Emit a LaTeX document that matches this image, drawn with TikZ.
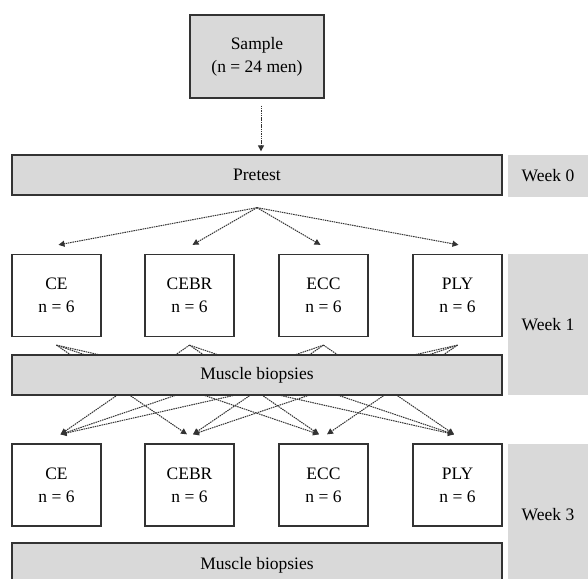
\documentclass[tikz,border=0pt]{standalone}
\usepackage{fontspec}
\setmainfont{Liberation Serif}
\usepackage{xcolor}
\usetikzlibrary{arrows.meta}
\definecolor{boxgray}{HTML}{D9D9D9}
\definecolor{linegray}{HTML}{333333}

\begin{document}
\begin{tikzpicture}[
    x=1pt, y=-1pt,
    font=\fontsize{17.5}{23}\selectfont,
    box/.style={rectangle, draw=linegray, line width=1.3pt, minimum width=89pt, minimum height=82pt, align=center, inner sep=0pt},
    bar/.style={box, fill=boxgray, minimum width=490pt, minimum height=40pt},
    week/.style={rectangle, fill=boxgray, minimum width=80pt, align=center, inner sep=0pt},
    arrow/.style={-{Triangle[length=6pt,width=6pt]}, line width=1pt, draw=linegray, dash pattern=on 1.5pt off 0.8pt}
]
    \useasboundingbox (0,0) rectangle (588,578);

    \node[box, fill=boxgray, minimum width=134pt, minimum height=83pt] (sample) at (257,56.5) {Sample\\(n = 24 men)};
    \node[bar] (pretest) at (257,175) {Pretest};
    \node[week, minimum height=42pt] (week0) at (548,176) {Week 0};

    \node[box] (ce1) at (56.5,295.5) {CE\\n = 6};
    \node[box] (cebr1) at (189.5,295.5) {CEBR\\n = 6};
    \node[box] (ecc1) at (323.5,295.5) {ECC\\n = 6};
    \node[box] (ply1) at (457.5,295.5) {PLY\\n = 6};
    \node[week, minimum height=141pt] (week1) at (548,324.5) {Week 1};

    \node[box] (ce3) at (56.5,485) {CE\\n = 6};
    \node[box] (cebr3) at (189.5,485) {CEBR\\n = 6};
    \node[box] (ecc3) at (323.5,485) {ECC\\n = 6};
    \node[box] (ply3) at (457.5,485) {PLY\\n = 6};
    \node[week, minimum height=142pt] (week3) at (548,515) {Week 3};

    \draw[arrow] ([xshift=4pt,yshift=-7pt]sample.south) -- ([xshift=4pt,yshift=3pt]pretest.north);

    % pretest to the four groups
    \coordinate (fan) at ([yshift=-12pt]pretest.south);
    \draw[arrow] (fan) -- ([xshift=2pt,yshift=9pt]ce1.north);
    \draw[arrow] (fan) -- ([xshift=3pt,yshift=9pt]cebr1.north);
    \draw[arrow] (fan) -- ([xshift=-3pt,yshift=9pt]ecc1.north);
    \draw[arrow] (fan) -- ([xshift=1pt,yshift=9pt]ply1.north);

    % crossover, drawn behind the biopsy bar
    \foreach \src/\dst/\dx in {ce1/cebr3/-2.5pt, ce1/ecc3/-4.5pt, ce1/ply3/-3.5pt,
        cebr1/ce3/4pt, cebr1/ecc3/-4.5pt, cebr1/ply3/-3.5pt,
        ecc1/ce3/4pt, ecc1/cebr3/3.5pt, ecc1/ply3/-3.5pt,
        ply1/ce3/4pt, ply1/cebr3/3.5pt, ply1/ecc3/3.5pt}
        \draw[arrow] ([yshift=-8pt]\src.south) -- ([xshift=\dx,yshift=9pt]\dst.north);

    \node[bar] (bio1) at (257,375) {Muscle biopsies};
    \node[bar, minimum height=44pt] (bio2) at (257,565) {Muscle biopsies};
\end{tikzpicture}
\end{document}
